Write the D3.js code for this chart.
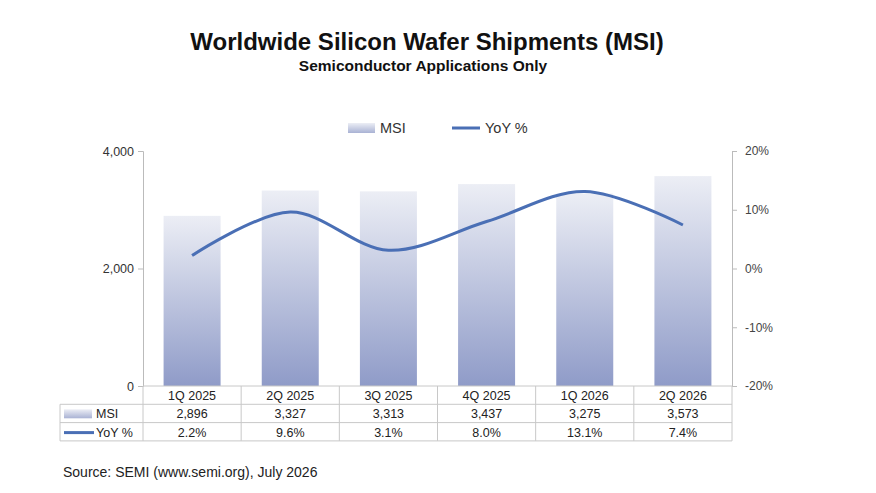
<!doctype html>
<html>
<head>
<meta charset="utf-8">
<script src="https://cdn.jsdelivr.net/npm/d3@7"></script>
<style>
  body { margin: 0; background: white; }
  svg { font-family: "Liberation Sans", Arial, sans-serif; }
</style>
</head>
<body>
<svg id="chart" width="876" height="493"></svg>
<script>
var quarters = ['1Q 2025', '2Q 2025', '3Q 2025', '4Q 2025', '1Q 2026', '2Q 2026'];
var msi = [2896, 3327, 3313, 3437, 3275, 3573];
var yoy = [2.2, 9.6, 3.1, 8.0, 13.1, 7.4];
var leftTicks = [0, 2000, 4000];
var rightTicks = [-20, -10, 0, 10, 20];

var svg = d3.select('#chart');
var plotLeft = 143, plotRight = 732, plotTop = 151, plotBottom = 386;
var rowH = 18.3, labelLeft = 60;

var x = d3.scaleBand().domain(quarters).range([plotLeft, plotRight]);
var y = d3.scaleLinear().domain([0, 4000]).range([plotBottom, plotTop]);
var y2 = d3.scaleLinear().domain([-20, 20]).range([plotBottom, plotTop]);

var defs = svg.append('defs');
var grad = defs.append('linearGradient').attr('id', 'barGrad')
    .attr('x1', 0).attr('x2', 0).attr('y1', 0).attr('y2', 1);
grad.append('stop').attr('offset', '0%').attr('stop-color', '#eceef5');
grad.append('stop').attr('offset', '100%').attr('stop-color', '#8f9bc8');
var grad2 = defs.append('linearGradient').attr('id', 'swGrad')
    .attr('x1', 0).attr('x2', 0).attr('y1', 0).attr('y2', 1);
grad2.append('stop').attr('offset', '0%').attr('stop-color', '#eceef5');
grad2.append('stop').attr('offset', '100%').attr('stop-color', '#a9b2d4');

// titles
svg.append('text').attr('x', 427).attr('y', 50).attr('text-anchor', 'middle')
    .attr('font-size', 24).attr('font-weight', 'bold').attr('fill', '#111')
    .text('Worldwide Silicon Wafer Shipments (MSI)');
svg.append('text').attr('x', 423).attr('y', 71).attr('text-anchor', 'middle')
    .attr('font-size', 15.5).attr('font-weight', 'bold').attr('fill', '#111')
    .text('Semiconductor Applications Only');

// legend
svg.append('rect').attr('x', 348).attr('y', 123).attr('width', 27).attr('height', 10).attr('fill', 'url(#swGrad)');
svg.append('text').attr('x', 380).attr('y', 133).attr('font-size', 14.5).attr('fill', '#333').text('MSI');
svg.append('line').attr('x1', 452).attr('x2', 480).attr('y1', 128).attr('y2', 128)
    .attr('stroke', '#4a6fb5').attr('stroke-width', 3);
svg.append('text').attr('x', 485).attr('y', 133).attr('font-size', 14.5).attr('fill', '#333').text('YoY %');

// bars
var bw = 57;
svg.selectAll('.bar').data(msi).join('rect')
    .attr('x', function (d, i) { return x(quarters[i]) + x.bandwidth() / 2 - bw / 2; })
    .attr('y', function (d) { return y(d); })
    .attr('width', bw)
    .attr('height', function (d) { return plotBottom - y(d); })
    .attr('fill', 'url(#barGrad)');

// axes
var la = svg.append('g').attr('transform', 'translate(' + plotLeft + ',0)')
    .call(d3.axisLeft(y).tickValues(leftTicks).tickFormat(d3.format(',')).tickSize(5).tickPadding(4));
la.select('.domain').attr('stroke', '#bbb');
la.selectAll('line').attr('stroke', '#bbb');
la.selectAll('text').attr('font-size', 12.5).attr('fill', '#333').attr('font-family', 'Liberation Sans, Arial');

var ra = svg.append('g').attr('transform', 'translate(' + plotRight + ',0)')
    .call(d3.axisRight(y2).tickValues(rightTicks).tickFormat(function (d) { return d + '%'; }).tickSize(5).tickPadding(8));
ra.select('.domain').attr('stroke', '#bbb');
ra.selectAll('line').attr('stroke', '#bbb');
ra.selectAll('text').attr('font-size', 12).attr('fill', '#444').attr('font-family', 'Liberation Sans, Arial');

// line
var line = d3.line()
    .x(function (d, i) { return x(quarters[i]) + x.bandwidth() / 2; })
    .y(function (d) { return y2(d); })
    .curve(d3.curveCatmullRom.alpha(0.5));
svg.append('path').datum(yoy).attr('d', line)
    .attr('fill', 'none').attr('stroke', '#4a6fb5').attr('stroke-width', 3);

// data table
var tbl = svg.append('g').attr('stroke', '#c8c8c8').attr('stroke-width', 1);
for (var r = 0; r <= 3; r++) {
  tbl.append('line').attr('x1', r === 0 ? plotLeft : labelLeft).attr('x2', plotRight)
      .attr('y1', plotBottom + r * rowH).attr('y2', plotBottom + r * rowH);
}
tbl.append('line').attr('x1', labelLeft).attr('x2', labelLeft).attr('y1', plotBottom + rowH).attr('y2', plotBottom + 3 * rowH);
quarters.forEach(function (q) {
  tbl.append('line').attr('x1', x(q)).attr('x2', x(q)).attr('y1', plotBottom).attr('y2', plotBottom + 3 * rowH);
});
tbl.append('line').attr('x1', plotRight).attr('x2', plotRight).attr('y1', plotBottom).attr('y2', plotBottom + 3 * rowH);

var rows = [quarters, msi.map(d3.format(',')), yoy.map(function (d) { return d.toFixed(1) + '%'; })];
rows.forEach(function (row, r) {
  svg.selectAll('.cell' + r).data(row).join('text')
      .attr('x', function (d, i) { return x(quarters[i]) + x.bandwidth() / 2; })
      .attr('y', plotBottom + r * rowH + 14)
      .attr('text-anchor', 'middle').attr('font-size', 12.5).attr('fill', '#222')
      .text(function (d) { return d; });
});
svg.append('rect').attr('x', 64).attr('y', plotBottom + rowH + 5).attr('width', 28).attr('height', 9).attr('fill', 'url(#swGrad)');
svg.append('text').attr('x', 96).attr('y', plotBottom + rowH + 14).attr('font-size', 12.5).attr('fill', '#222').text('MSI');
svg.append('line').attr('x1', 64).attr('x2', 94).attr('y1', plotBottom + 2 * rowH + 10).attr('y2', plotBottom + 2 * rowH + 10)
    .attr('stroke', '#4a6fb5').attr('stroke-width', 3);
svg.append('text').attr('x', 96).attr('y', plotBottom + 2 * rowH + 14).attr('font-size', 12.5).attr('fill', '#222').text('YoY %');

svg.append('text').attr('x', 63).attr('y', 477).attr('font-size', 14).attr('fill', '#222')
    .text('Source: SEMI (www.semi.org), July 2026');
</script>
</body>
</html>
